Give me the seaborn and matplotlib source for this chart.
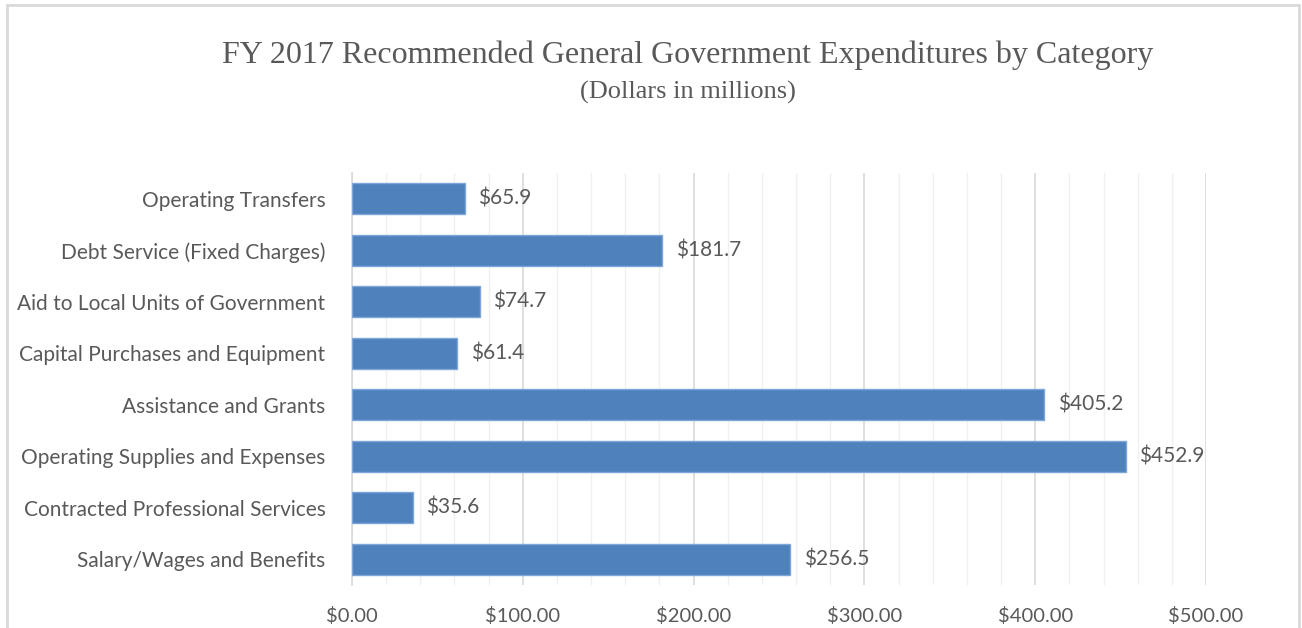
import numpy as np
import pandas as pd
import seaborn as sns
import matplotlib.pyplot as plt
from matplotlib.patches import Rectangle
from matplotlib.ticker import MultipleLocator, FuncFormatter

categories = [
    'Operating Transfers',
    'Debt Service (Fixed Charges)',
    'Aid to Local Units of Government',
    'Capital Purchases and Equipment',
    'Assistance and Grants',
    'Operating Supplies and Expenses',
    'Contracted Professional Services',
    'Salary/Wages and Benefits',
]
amounts = [65.9, 181.7, 74.7, 61.4, 405.2, 452.9, 35.6, 256.5]
x_ticks = [0, 100, 200, 300, 400, 500]

df = pd.DataFrame({'category': categories, 'amount': amounts})

sns.set_style('white')
plt.rcParams['font.family'] = ['Lato', 'DejaVu Sans']

fig = plt.figure(figsize=(13.02, 6.28), dpi=100)
ax = fig.add_axes([352 / 1302, 1 - 585 / 628, (1206 - 352) / 1302, (585 - 173) / 628])

# outer chart border
fig.patches.append(Rectangle((7 / 1302, -0.05), (1299 - 7) / 1302, 1.05 - 5 / 628,
                             transform=fig.transFigure, fill=False,
                             edgecolor='#d9d9d9', linewidth=2))

sns.barplot(data=df, y='category', x='amount', color='#4f81bd', width=0.6,
            edgecolor='#7ea6d8', linewidth=1, saturation=1, ax=ax, zorder=3)

ax.set_xlim(0, 500)
ax.set_xticks(x_ticks)
ax.xaxis.set_minor_locator(MultipleLocator(20))
ax.xaxis.set_major_formatter(FuncFormatter(lambda v, p: f'${v:.2f}'))
ax.grid(axis='x', which='major', color='#d9d9d9', linewidth=1.2, zorder=0)
ax.grid(axis='x', which='minor', color='#f0f0f0', linewidth=1, zorder=0)
ax.set_axisbelow(True)

for s in ['top', 'right', 'bottom']:
    ax.spines[s].set_visible(False)
ax.spines['left'].set_color('#d9d9d9')
ax.spines['left'].set_linewidth(1.2)

# category separator ticks on the y axis
ax.set_yticks(np.arange(len(categories)))
ax.set_yticklabels(categories)
ax.set_yticks(np.arange(len(categories) + 1) - 0.5, minor=True)
ax.tick_params(axis='y', which='major', length=0, pad=19, labelsize=15, labelcolor='#595959')
ax.tick_params(axis='y', which='minor', length=5, color='#d9d9d9', width=1.2, direction='out')
ax.tick_params(axis='x', which='both', length=0, pad=16, labelsize=14.5, labelcolor='#595959')
ax.set_xlabel('')
ax.set_ylabel('')

for i, v in enumerate(amounts):
    ax.text(v + 8, i, f'${v:.1f}', va='center', ha='left', fontsize=15, color='#595959')

fig.text(688 / 1302, 1 - 55 / 628, 'FY 2017 Recommended General Government Expenditures by Category',
         ha='center', va='center', fontsize=23, color='#595959', family=['Liberation Serif'])
fig.text(688 / 1302, 1 - 92 / 628, '(Dollars in millions)',
         ha='center', va='center', fontsize=19, color='#595959', family=['Liberation Serif'])

fig.savefig('out.png', dpi=100)
